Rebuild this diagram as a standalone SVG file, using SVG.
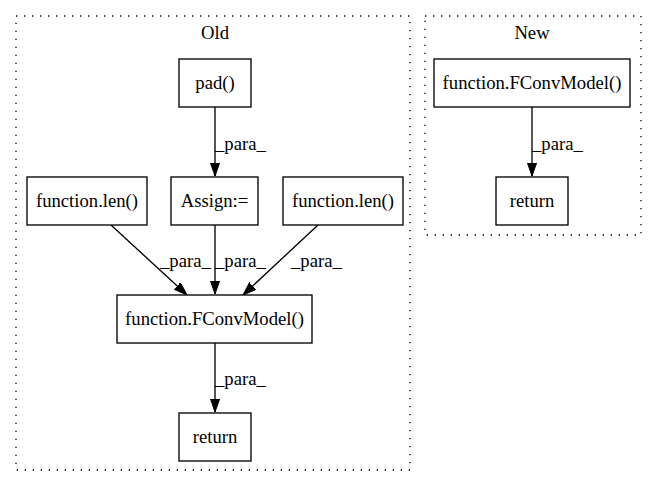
<svg xmlns="http://www.w3.org/2000/svg" width="656" height="488" viewBox="0 0 656 488">
<style>
text{font-family:"Liberation Serif","Times New Roman",serif;font-size:18.67px;fill:#000}
.c{fill:none;stroke:#000;stroke-width:1.33;stroke-dasharray:1.33,6.67}
.n rect{fill:#fff;stroke:#000;stroke-width:1.33}
.n text{text-anchor:middle}
.e{fill:none;stroke:#000;stroke-width:1.33}
.t{text-anchor:middle}
</style>
<defs>
<marker id="ah" markerWidth="14" markerHeight="10" refX="13.3" refY="4.7" orient="auto" markerUnits="userSpaceOnUse">
<polygon points="0,0 13.3,4.7 0,9.3" fill="#000" stroke="#000" stroke-width="1"/>
</marker>
</defs>
<rect width="656" height="488" fill="#fff"/>
<g id="cluster_old">
<rect class="c" x="16" y="16" width="394" height="454"/>
<text class="t" x="215" y="39">Old</text>
</g>
<g id="cluster_new">
<rect class="c" x="425" y="16" width="216" height="219"/>
<text class="t" x="532" y="39">New</text>
</g>
<g id="connectors">
<line class="e" x1="215" y1="107" x2="215" y2="176" marker-end="url(#ah)"/>
<text x="215" y="150">_para_</text>
<line class="e" x1="111" y1="225" x2="187" y2="295" marker-end="url(#ah)"/>
<text x="160" y="267">_para_</text>
<line class="e" x1="215" y1="225" x2="215" y2="294" marker-end="url(#ah)"/>
<text x="215" y="267">_para_</text>
<line class="e" x1="318" y1="225" x2="243" y2="295" marker-end="url(#ah)"/>
<text x="291" y="267">_para_</text>
<line class="e" x1="215" y1="343" x2="215" y2="412" marker-end="url(#ah)"/>
<text x="215" y="385">_para_</text>
<line class="e" x1="532" y1="107" x2="532" y2="176" marker-end="url(#ah)"/>
<text x="532" y="150">_para_</text>
</g>
<g id="pad" class="n"><rect x="179" y="59" width="72" height="48"/><text x="215" y="89">pad()</text></g>
<g id="assign" class="n"><rect x="171" y="177" width="87" height="48"/><text x="214.5" y="207">Assign:=</text></g>
<g id="len1" class="n"><rect x="27" y="177" width="120" height="48"/><text x="87" y="207">function.len()</text></g>
<g id="len2" class="n"><rect x="283" y="177" width="120" height="48"/><text x="343" y="207">function.len()</text></g>
<g id="fconv_old" class="n"><rect x="117" y="295" width="195" height="48"/><text x="214.5" y="325">function.FConvModel()</text></g>
<g id="return_old" class="n"><rect x="179" y="413" width="72" height="48"/><text x="215" y="443">return</text></g>
<g id="fconv_new" class="n"><rect x="434" y="59" width="196" height="48"/><text x="532" y="89">function.FConvModel()</text></g>
<g id="return_new" class="n"><rect x="496" y="177" width="72" height="48"/><text x="532" y="207">return</text></g>
</svg>
